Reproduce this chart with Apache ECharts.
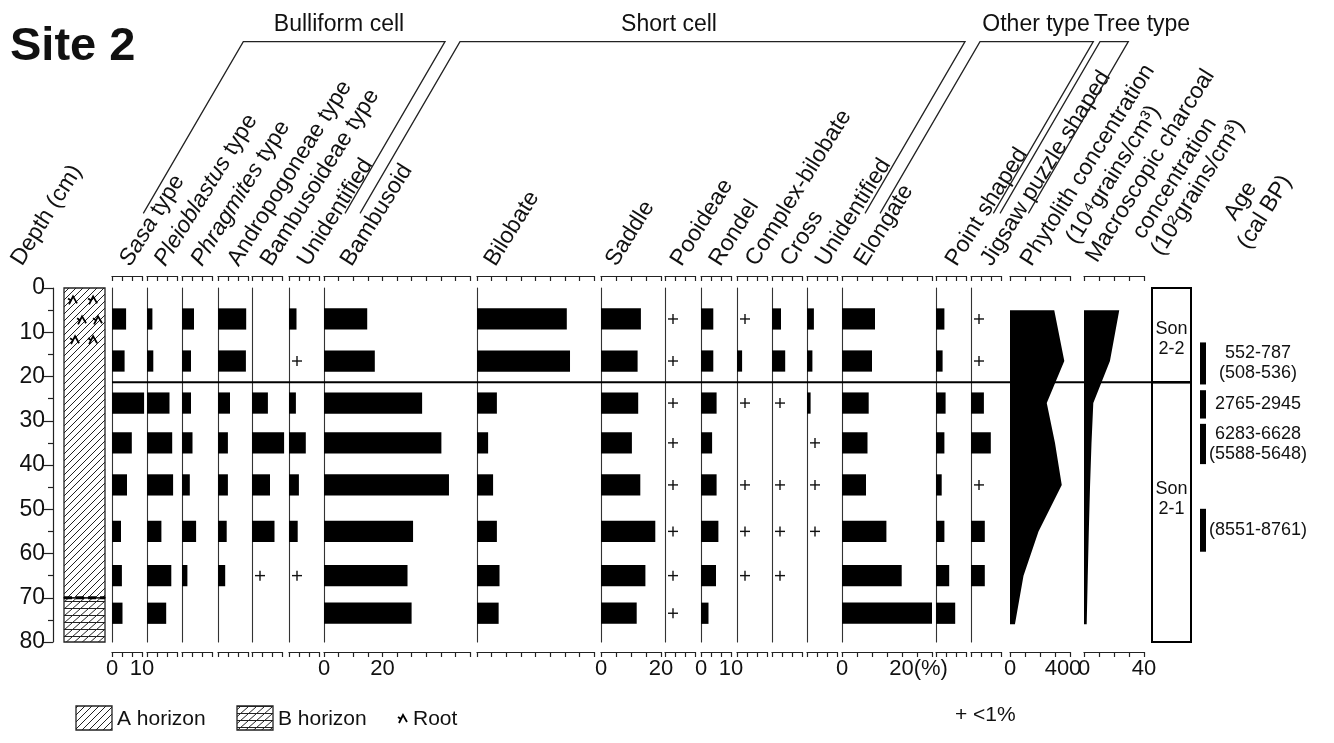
<!DOCTYPE html>
<html>
<head>
<meta charset="utf-8">
<title>Site 2</title>
<script src="https://cdn.jsdelivr.net/npm/echarts@6.0.0/dist/echarts.min.js"></script>
<style>
html, body { margin: 0; padding: 0; background: #fff; }
#chart { width: 1334px; height: 743px; }
</style>
</head>
<body>
<div id="chart"></div>
<script>
// ---------------- data ----------------
const sampleDepth = [7, 16.5, 26, 35, 44.5, 55, 65, 73.5]; // cm
const T = 0.5; // <1%, drawn as "+"

// bulliform cell (%)
const sasa          = [4.7, 4.2, 10.7, 6.6, 5.0, 3.0, 3.3, 3.5];
const pleioblastus  = [1.8, 2.1, 7.5, 8.4, 8.7, 4.8, 8.1, 6.4];
const phragmites    = [4.0, 3.0, 3.0, 3.5, 2.6, 4.7, 1.8, null];
const andropogoneae = [9.4, 9.3, 4.0, 3.3, 3.3, 2.9, 2.4, null];
const bambusoideae  = [null, null, 5.3, 10.7, 6.0, 7.5, T, null];
const unidentBull   = [2.5, T, 2.3, 5.6, 3.3, 2.9, T, null];
// short cell (%)
const bambusoid     = [14.8, 17.4, 33.6, 40.2, 42.8, 30.5, 28.6, 30.0];
const bilobate      = [30.7, 31.8, 6.8, 3.8, 5.5, 6.8, 7.7, 7.4];
const saddle        = [13.3, 12.2, 12.4, 10.3, 13.1, 18.1, 14.8, 11.9];
const pooideae      = [T, T, T, T, T, T, T, T];
const rondel        = [4.1, 4.1, 5.2, 3.7, 5.2, 5.8, 5.0, 2.5];
const complexBilob  = [T, 1.7, T, null, T, T, T, null];
const cross         = [3.0, 4.4, T, null, T, T, T, null];
const unidentShort  = [2.3, 1.8, 1.2, T, T, T, null, null];
// other type / tree type (%)
const elongate      = [11.0, 10.0, 8.9, 8.5, 8.0, 14.8, 19.9, 30.0];
const pointShaped   = [2.8, 2.2, 3.2, 2.8, 1.9, 2.8, 4.4, 6.4];
const jigsaw        = [T, T, 4.3, 6.6, T, 4.6, 4.6, null];

// phytolith concentration (10^4 grains/cm3)
const concDepth = [5, 16.5, 26, 35, 44.5, 55, 65, 76];
const concValue = [295, 362, 245, 300, 345, 190, 90, 33];
// macroscopic charcoal concentration (10^2 grains/cm3)
const charDepth = [5, 16.5, 26, 35, 45, 55, 65, 76];
const charValue = [23.5, 17.3, 6.2, 5, 4, 3.2, 2.5, 1.8];

// zones & ages
const zoneBoundary = 21.3;
const zoneTop = [0, 21.3];
const zoneBottom = [21.3, 80];
const zoneName = ['Son\n2-2', 'Son\n2-1'];
const zoneLabelDepth = [11.5, 47.6];
const ageTop = [12.3, 23.1, 30.7, 49.9];
const ageBottom = [21.8, 29.5, 39.8, 59.6];
const ageLabel = ['552-787\n(508-536)', '2765-2945', '6283-6628\n(5588-5648)', '(8551-8761)'];

// lithology
const horizonTop = [0, 70];
const horizonBottom = [70, 80];
const horizonName = ['A', 'B'];
const rootX = [0.22, 0.71, 0.44, 0.83, 0.27, 0.71];
const rootDepth = [2.8, 2.8, 7.3, 7.3, 11.8, 11.8];

// column labels & bottom tick labels
const columnLabels = ['{i|Sasa} type', '{i|Pleioblastus} type', '{i|Phragmites} type', 'Andropogoneae type',
  'Bambusoideae type', 'Unidentified', 'Bambusoid', 'Bilobate', 'Saddle', 'Pooideae', 'Rondel',
  'Complex-bilobate', 'Cross', 'Unidentified', 'Elongate', 'Point shaped', 'Jigsaw puzzle shaped',
  'Phytolith concentration', 'Macroscopic charcoal'];
const panelTickLabels = [[0, 10], [], [], [], [], [], [0, 20], [], [0, 20], [], [0, 10], [], [], [], [0, 20], [], [], [0, 400], [0, 40]];
const groupNames = ['Bulliform cell', 'Short cell', 'Other type', 'Tree type'];

// ---------------- layout ----------------
const FONT = '"Liberation Sans", Arial, Helvetica, sans-serif';
const INK = '#111';
const LINE = '#222';
const GRID_TOP = 288, GRID_H = 354;
const BAR_HALF = 2.4; // half bar height, cm
const ROT = 58 * Math.PI / 180;

const barValues = [sasa, pleioblastus, phragmites, andropogoneae, bambusoideae, unidentBull,
  bambusoid, bilobate, saddle, pooideae, rondel, complexBilob, cross, unidentShort,
  elongate, pointShaped, jigsaw];
const third = 10 / 3;
const panelLeft  = [112, 147, 182, 218, 252, 289, 324, 477, 601, 665, 701, 737, 772, 807, 842, 936, 971, 1010, 1084];
const panelWidth = [30, 30, 30, 30, 30, 30, 146, 117, 60, 30, 30, 30, 30, 30, 90, 30, 30, 60, 60];
const panelMax   = [10, 10, 10, 10, 10, 10, 50, 40, 20, 10, 10, 10, 10, 10, 30, 10, 10, 400, 40];
const panelStep  = [third, third, third, third, third, third, 5, 5, 5, third, third, third, third, third, 5, third, third, 100, 10];
// baseline start of each rotated column label
const labelX = [121.7, 156.7, 193.3, 230, 263, 300, 343, 486.7, 608, 673, 711.7, 748, 783, 818, 856.7, 948, 983, 1023, 1088.3];
const labelY = [267, 267, 267, 267, 267, 267, 267, 267, 267, 267, 267, 267, 267, 267, 267, 267, 267, 267, 263.3];
const groupFoot = [[143.3, 345], [360, 865], [880, 993.3], [1000, 1028.3]];
const groupTitleX = [339, 669, 1036, 1142];

// hatch patterns for the lithology column
function makePattern(w, h, draw) {
  const c = document.createElement('canvas');
  c.width = w; c.height = h;
  const ctx = c.getContext('2d');
  ctx.strokeStyle = '#222';
  ctx.lineWidth = 1;
  ctx.beginPath();
  draw(ctx, w, h);
  ctx.stroke();
  return { image: c, repeat: 'repeat' };
}
const hatchA = makePattern(7, 7, (ctx, w, h) => {
  ctx.moveTo(-1, h + 1); ctx.lineTo(w + 1, -1);
  ctx.moveTo(-1, 1); ctx.lineTo(1, -1);
  ctx.moveTo(w - 1, h + 1); ctx.lineTo(w + 1, h - 1);
});
const hatchB = makePattern(8, 7, (ctx, w, h) => {
  ctx.moveTo(0, h); ctx.lineTo(w, 0);
  ctx.moveTo(0, h - 0.5); ctx.lineTo(w, h - 0.5);
});

function ticksFor(i) {
  const n = Math.round(panelMax[i] / panelStep[i]);
  const out = [];
  for (let k = 0; k <= n; k++) out.push(k * panelStep[i]);
  out[n] = panelMax[i];
  return out;
}

function textStyle(extra) {
  return Object.assign({ fontFamily: FONT, fill: INK }, extra);
}

// bars and "+" marks
function renderBar(params, api) {
  const v = api.value(0), d = api.value(1);
  if (v < 1) {
    const p = api.coord([0, d]);
    const st = { stroke: INK, lineWidth: 1.4 };
    return { type: 'group', children: [
      { type: 'line', shape: { x1: p[0] + 3, y1: p[1], x2: p[0] + 13, y2: p[1] }, style: st },
      { type: 'line', shape: { x1: p[0] + 8, y1: p[1] - 5, x2: p[0] + 8, y2: p[1] + 5 }, style: st }
    ] };
  }
  const a = api.coord([0, d - BAR_HALF]);
  const b = api.coord([v, d + BAR_HALF]);
  return { type: 'rect', shape: { x: a[0], y: a[1], width: b[0] - a[0], height: b[1] - a[1] }, style: { fill: '#000' } };
}

function renderProfile(depths, vals) {
  return function (params, api) {
    if (params.dataIndex !== 0) return null;
    const pts = [api.coord([0, depths[0]])];
    for (let i = 0; i < vals.length; i++) pts.push(api.coord([vals[i], depths[i]]));
    pts.push(api.coord([0, depths[depths.length - 1]]));
    return { type: 'polygon', shape: { points: pts }, style: { fill: '#000' } };
  };
}

function renderHorizon(params, api) {
  const a = api.coord([0, api.value(0)]);
  const b = api.coord([1, api.value(1)]);
  const kind = horizonName[params.dataIndex];
  const children = [{
    type: 'rect', shape: { x: a[0], y: a[1], width: b[0] - a[0], height: b[1] - a[1] },
    style: { fill: kind === 'A' ? hatchA : hatchB, stroke: LINE, lineWidth: 1.3 }
  }];
  if (kind === 'B') {
    children.push({ type: 'line', shape: { x1: a[0], y1: a[1], x2: b[0], y2: a[1] },
      style: { stroke: '#000', lineWidth: 3, lineDash: [8, 4] } });
  }
  return { type: 'group', children: children };
}

function rootShape(x, y, s) {
  const st = { stroke: '#000', lineWidth: 1.8, fill: null };
  return { type: 'group', children: [
    { type: 'polyline', shape: { points: [[x - 4 * s, y + 4 * s], [x, y - 4 * s], [x + 4 * s, y + 3 * s]] }, style: st },
    { type: 'line', shape: { x1: x - 2 * s, y1: y, x2: x - 5 * s, y2: y - 2 * s }, style: st }
  ] };
}

function renderRoot(params, api) {
  const p = api.coord([api.value(0), api.value(1)]);
  return rootShape(p[0], p[1], 1);
}

function renderZone(params, api) {
  const cs = params.coordSys;
  const a = api.coord([0, api.value(0)]);
  const b = api.coord([0, api.value(1)]);
  const c = api.coord([0, zoneLabelDepth[params.dataIndex]]);
  return { type: 'group', children: [
    { type: 'rect', shape: { x: cs.x + 2, y: a[1], width: 39, height: b[1] - a[1] },
      style: { fill: null, stroke: '#000', lineWidth: 2 } },
    { type: 'text', x: cs.x + 21.5, y: c[1],
      style: textStyle({ text: zoneName[params.dataIndex], fontSize: 18, lineHeight: 20,
        align: 'center', verticalAlign: 'middle', textAlign: 'center', textVerticalAlign: 'middle' }) }
  ] };
}

function renderAge(params, api) {
  const cs = params.coordSys;
  const a = api.coord([0, api.value(0)]);
  const b = api.coord([0, api.value(1)]);
  const x = cs.x + 50;
  return { type: 'group', children: [
    { type: 'rect', shape: { x: x, y: a[1], width: 6, height: b[1] - a[1] }, style: { fill: '#000' } },
    { type: 'text', x: x + 58, y: (a[1] + b[1]) / 2,
      style: textStyle({ text: ageLabel[params.dataIndex], fontSize: 18, lineHeight: 20,
        align: 'center', verticalAlign: 'middle', textAlign: 'center', textVerticalAlign: 'middle' }) }
  ] };
}

// ---------------- option ----------------
const grid = [], xAxis = [], yAxis = [], series = [];
const axisLineStyle = { color: LINE, width: 1.2 };

panelLeft.forEach((left, i) => {
  grid.push({ left: left, top: GRID_TOP, width: panelWidth[i], height: GRID_H, outerBoundsMode: 'none' });
  const ticks = ticksFor(i);
  const labels = panelTickLabels[i];
  const base = {
    gridIndex: i, type: 'value', min: 0, max: panelMax[i],
    axisLine: { show: true, onZero: false, lineStyle: axisLineStyle },
    splitLine: { show: false }
  };
  xAxis.push(Object.assign({}, base, {
    position: 'bottom', offset: 10,
    axisTick: { show: true, length: 5, customValues: ticks, lineStyle: axisLineStyle },
    axisLabel: {
      show: labels.length > 0, customValues: labels, margin: 6, fontSize: 22, fontFamily: FONT, color: INK,
      formatter: v => (i === 14 && v === 20) ? '{n|20}{p|(%)}' : (v === 400 ? '{r|400}' : String(v)),
      rich: {
        n: { fontSize: 22, fontFamily: FONT, color: INK, padding: [0, 0, 0, 33] },
        p: { fontSize: 22, fontFamily: FONT, color: INK },
        r: { fontSize: 22, fontFamily: FONT, color: INK, padding: [0, 14, 0, 0] }
      }
    }
  }));
  xAxis.push(Object.assign({}, base, {
    position: 'top', offset: 12,
    axisTick: { show: true, inside: true, length: 5, customValues: ticks, lineStyle: axisLineStyle },
    axisLabel: { show: false }
  }));
  yAxis.push({
    gridIndex: i, type: 'value', inverse: true, min: 0, max: 80, position: 'left',
    axisLine: { show: i < 17, onZero: false, lineStyle: { color: '#333', width: 1.1 } },
    axisTick: { show: false }, axisLabel: { show: false }, splitLine: { show: false }
  });
});

barValues.forEach((vals, i) => {
  const data = [];
  vals.forEach((v, k) => { if (v !== null) data.push([v, sampleDepth[k]]); });
  series.push({
    type: 'custom', coordinateSystem: 'cartesian2d', xAxisIndex: 2 * i, yAxisIndex: i,
    encode: { x: 0, y: 1 }, renderItem: renderBar, data: data, silent: true
  });
});
series.push({
  type: 'custom', coordinateSystem: 'cartesian2d', xAxisIndex: 34, yAxisIndex: 17,
  encode: { x: 0, y: 1 }, renderItem: renderProfile(concDepth, concValue),
  data: concValue.map((v, k) => [v, concDepth[k]]), silent: true
});
series.push({
  type: 'custom', coordinateSystem: 'cartesian2d', xAxisIndex: 36, yAxisIndex: 18,
  encode: { x: 0, y: 1 }, renderItem: renderProfile(charDepth, charValue),
  data: charValue.map((v, k) => [v, charDepth[k]]), silent: true
});

// lithology column with depth axis (grid 19)
grid.push({ left: 64, top: GRID_TOP, width: 41, height: GRID_H, outerBoundsMode: 'none' });
xAxis.push({ gridIndex: 19, type: 'value', min: 0, max: 1, show: false });
yAxis.push({
  gridIndex: 19, type: 'value', inverse: true, min: 0, max: 80, interval: 10, position: 'left', offset: 11,
  axisLine: { show: true, onZero: false, lineStyle: axisLineStyle },
  axisTick: { show: true, length: 10, lineStyle: axisLineStyle },
  minorTick: { show: true, splitNumber: 2, length: 5, lineStyle: axisLineStyle },
  axisLabel: { fontSize: 23, fontFamily: FONT, color: INK, margin: 8 },
  splitLine: { show: false }
});
series.push({
  type: 'custom', coordinateSystem: 'cartesian2d', xAxisIndex: 38, yAxisIndex: 19,
  encode: { y: [0, 1] }, renderItem: renderHorizon,
  data: horizonTop.map((t, k) => [t, horizonBottom[k]]), silent: true
});
series.push({
  type: 'custom', coordinateSystem: 'cartesian2d', xAxisIndex: 38, yAxisIndex: 19,
  encode: { x: 0, y: 1 }, renderItem: renderRoot,
  data: rootX.map((x, k) => [x, rootDepth[k]]), silent: true, z: 5
});

// zone boundary across all panels (grid 20)
grid.push({ left: 112, top: GRID_TOP, width: 1080, height: GRID_H, outerBoundsMode: 'none' });
xAxis.push({ gridIndex: 20, type: 'value', min: 0, max: 1, show: false });
yAxis.push({ gridIndex: 20, type: 'value', inverse: true, min: 0, max: 80, show: false });
series.push({
  type: 'line', xAxisIndex: 39, yAxisIndex: 20, symbol: 'none', silent: true, z: 10,
  lineStyle: { color: '#000', width: 2 },
  data: [[0, zoneBoundary], [1, zoneBoundary]]
});

// zones and ages (grid 21)
grid.push({ left: 1150, top: GRID_TOP, width: 170, height: GRID_H, outerBoundsMode: 'none' });
xAxis.push({ gridIndex: 21, type: 'value', min: 0, max: 1, show: false });
yAxis.push({ gridIndex: 21, type: 'value', inverse: true, min: 0, max: 80, show: false });
series.push({
  type: 'custom', coordinateSystem: 'cartesian2d', xAxisIndex: 40, yAxisIndex: 21,
  encode: { y: [0, 1] }, renderItem: renderZone,
  data: zoneTop.map((t, k) => [t, zoneBottom[k]]), silent: true
});
series.push({
  type: 'custom', coordinateSystem: 'cartesian2d', xAxisIndex: 40, yAxisIndex: 21,
  encode: { y: [0, 1] }, renderItem: renderAge,
  data: ageTop.map((t, k) => [t, ageBottom[k]]), silent: true
});

// ---------------- header, labels, legend ----------------
const italic = { fontStyle: 'italic', fontSize: 23, fontFamily: FONT, fill: INK, color: INK };
// x, y = start of the text baseline (offset found by eye)
function rotText(text, x, y) {
  return {
    type: 'text', x: x + 3.2, y: y - 3.2, rotation: ROT, silent: true,
    style: textStyle({ text: text, fontSize: 23, align: 'left', verticalAlign: 'middle',
      textAlign: 'left', textVerticalAlign: 'middle', rich: { i: italic } })
  };
}
function plainText(text, x, y, size, align, extra) {
  return {
    type: 'text', x: x, y: y, silent: true,
    style: textStyle(Object.assign({ text: text, fontSize: size, align: align, verticalAlign: 'middle',
      textAlign: align, textVerticalAlign: 'middle' }, extra || {}))
  };
}

const graphic = [];
graphic.push(plainText('Site 2', 10, 47, 47, 'left', { fontWeight: 'bold' }));
graphic.push(rotText('Depth (cm)', 13.3, 266.7));
columnLabels.forEach((t, i) => graphic.push(rotText(t, labelX[i], labelY[i])));
graphic.push(rotText('(10\u2074grains/cm\u00b3)', 1068.3, 245));
graphic.push(rotText('concentration', 1135, 240));
graphic.push(rotText('(10\u00b2grains/cm\u00b3)', 1153.3, 256.7));
graphic.push(rotText('Age', 1226.7, 221.7));
graphic.push(rotText('(cal BP)', 1240, 250));

groupNames.forEach((g, i) => {
  const lb = groupFoot[i][0], rb = groupFoot[i][1];
  graphic.push({
    type: 'polyline', silent: true,
    shape: { points: [[lb, 213.3], [lb + 100, 41.7], [rb + 100, 41.7], [rb, 213.3]] },
    style: { stroke: LINE, lineWidth: 1.3, fill: null }
  });
  graphic.push(plainText(g, groupTitleX[i], 25, 23, 'center'));
});

// legend
graphic.push({ type: 'rect', silent: true, shape: { x: 76, y: 706, width: 36, height: 24 },
  style: { fill: hatchA, stroke: LINE, lineWidth: 1.3 } });
graphic.push(plainText('A horizon', 117, 719, 21, 'left'));
graphic.push({ type: 'rect', silent: true, shape: { x: 237, y: 706, width: 36, height: 24 },
  style: { fill: hatchB, stroke: LINE, lineWidth: 1.3 } });
graphic.push(plainText('B horizon', 278, 719, 21, 'left'));
graphic.push(Object.assign(rootShape(403, 719, 1), { silent: true }));
graphic.push(plainText('Root', 413, 719, 21, 'left'));
graphic.push(plainText('+ <1%', 955, 715, 21, 'left'));

const chart = echarts.init(document.getElementById('chart'), null, { renderer: 'canvas' });
chart.setOption({
  backgroundColor: '#fff',
  animation: false,
  textStyle: { fontFamily: FONT },
  grid: grid,
  xAxis: xAxis,
  yAxis: yAxis,
  series: series,
  graphic: graphic
});
</script>
</body>
</html>
